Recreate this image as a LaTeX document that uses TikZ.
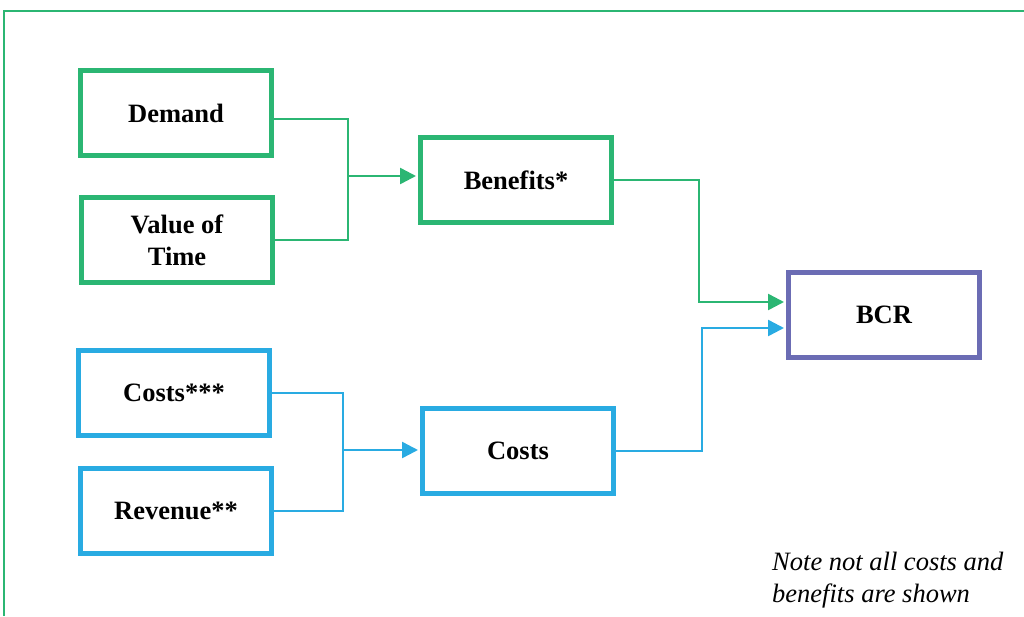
\documentclass[tikz,border=0pt]{standalone}
\usepackage{fontspec}
\setmainfont{Liberation Serif}
\usetikzlibrary{arrows.meta}
\definecolor{grn}{RGB}{43,182,115}
\definecolor{blu}{RGB}{41,171,226}
\definecolor{prp}{RGB}{107,108,180}
\begin{document}
\begin{tikzpicture}[x=1pt,y=-1pt,font=\fontsize{26.5}{32}\selectfont,
box/.style={draw=#1,line width=5pt,minimum width=191pt,minimum height=85pt,align=center,inner sep=0pt,font=\fontsize{26.5}{32}\selectfont\bfseries},
link/.style={line width=2.5pt},
tip/.style={-{Triangle[length=16pt,width=16pt]},shorten >=2pt}]
\useasboundingbox(0,0)rectangle(1024,616);
\draw[grn,line width=2pt](4,616)--(4,11)--(1024,11);
% inputs
\node[box=grn](dem) at (176,113){Demand};
\node[box=grn](vot) at (177,240){Value of\\Time};
\node[box=blu](cos) at (174,393){Costs***};
\node[box=blu](rev) at (176,511){Revenue**};
% middle and result
\node[box=grn](ben) at (516,180){Benefits*};
\node[box=blu](cst) at (518,451){Costs};
\node[box=prp](bcr) at (884,315){BCR};
\coordinate(jb) at (348,176);
\coordinate(jc) at (343,450);
\coordinate(b1) at ([yshift=13pt]bcr.west);
\coordinate(b2) at ([yshift=-13pt]bcr.west);
\draw[link,grn]([yshift=-6pt]dem.east)-|(jb);
\draw[link,grn](vot.east)-|(jb);
\draw[link,grn,tip](jb)--(jb-|ben.west);
\draw[link,blu](cos.east)-|(jc);
\draw[link,blu](rev.east)-|(jc);
\draw[link,blu,tip](jc)--(jc-|cst.west);
\draw[link,grn,tip](ben.east)--++(85,0)|-(b1);
\draw[link,blu,tip](cst.east)--++(86,0)|-(b2);
\node[anchor=base west,align=left,inner sep=0pt,font=\fontsize{26.5}{32}\selectfont\itshape](note) at (772,602){Note not all costs and\\benefits are shown};
\end{tikzpicture}
\end{document}
